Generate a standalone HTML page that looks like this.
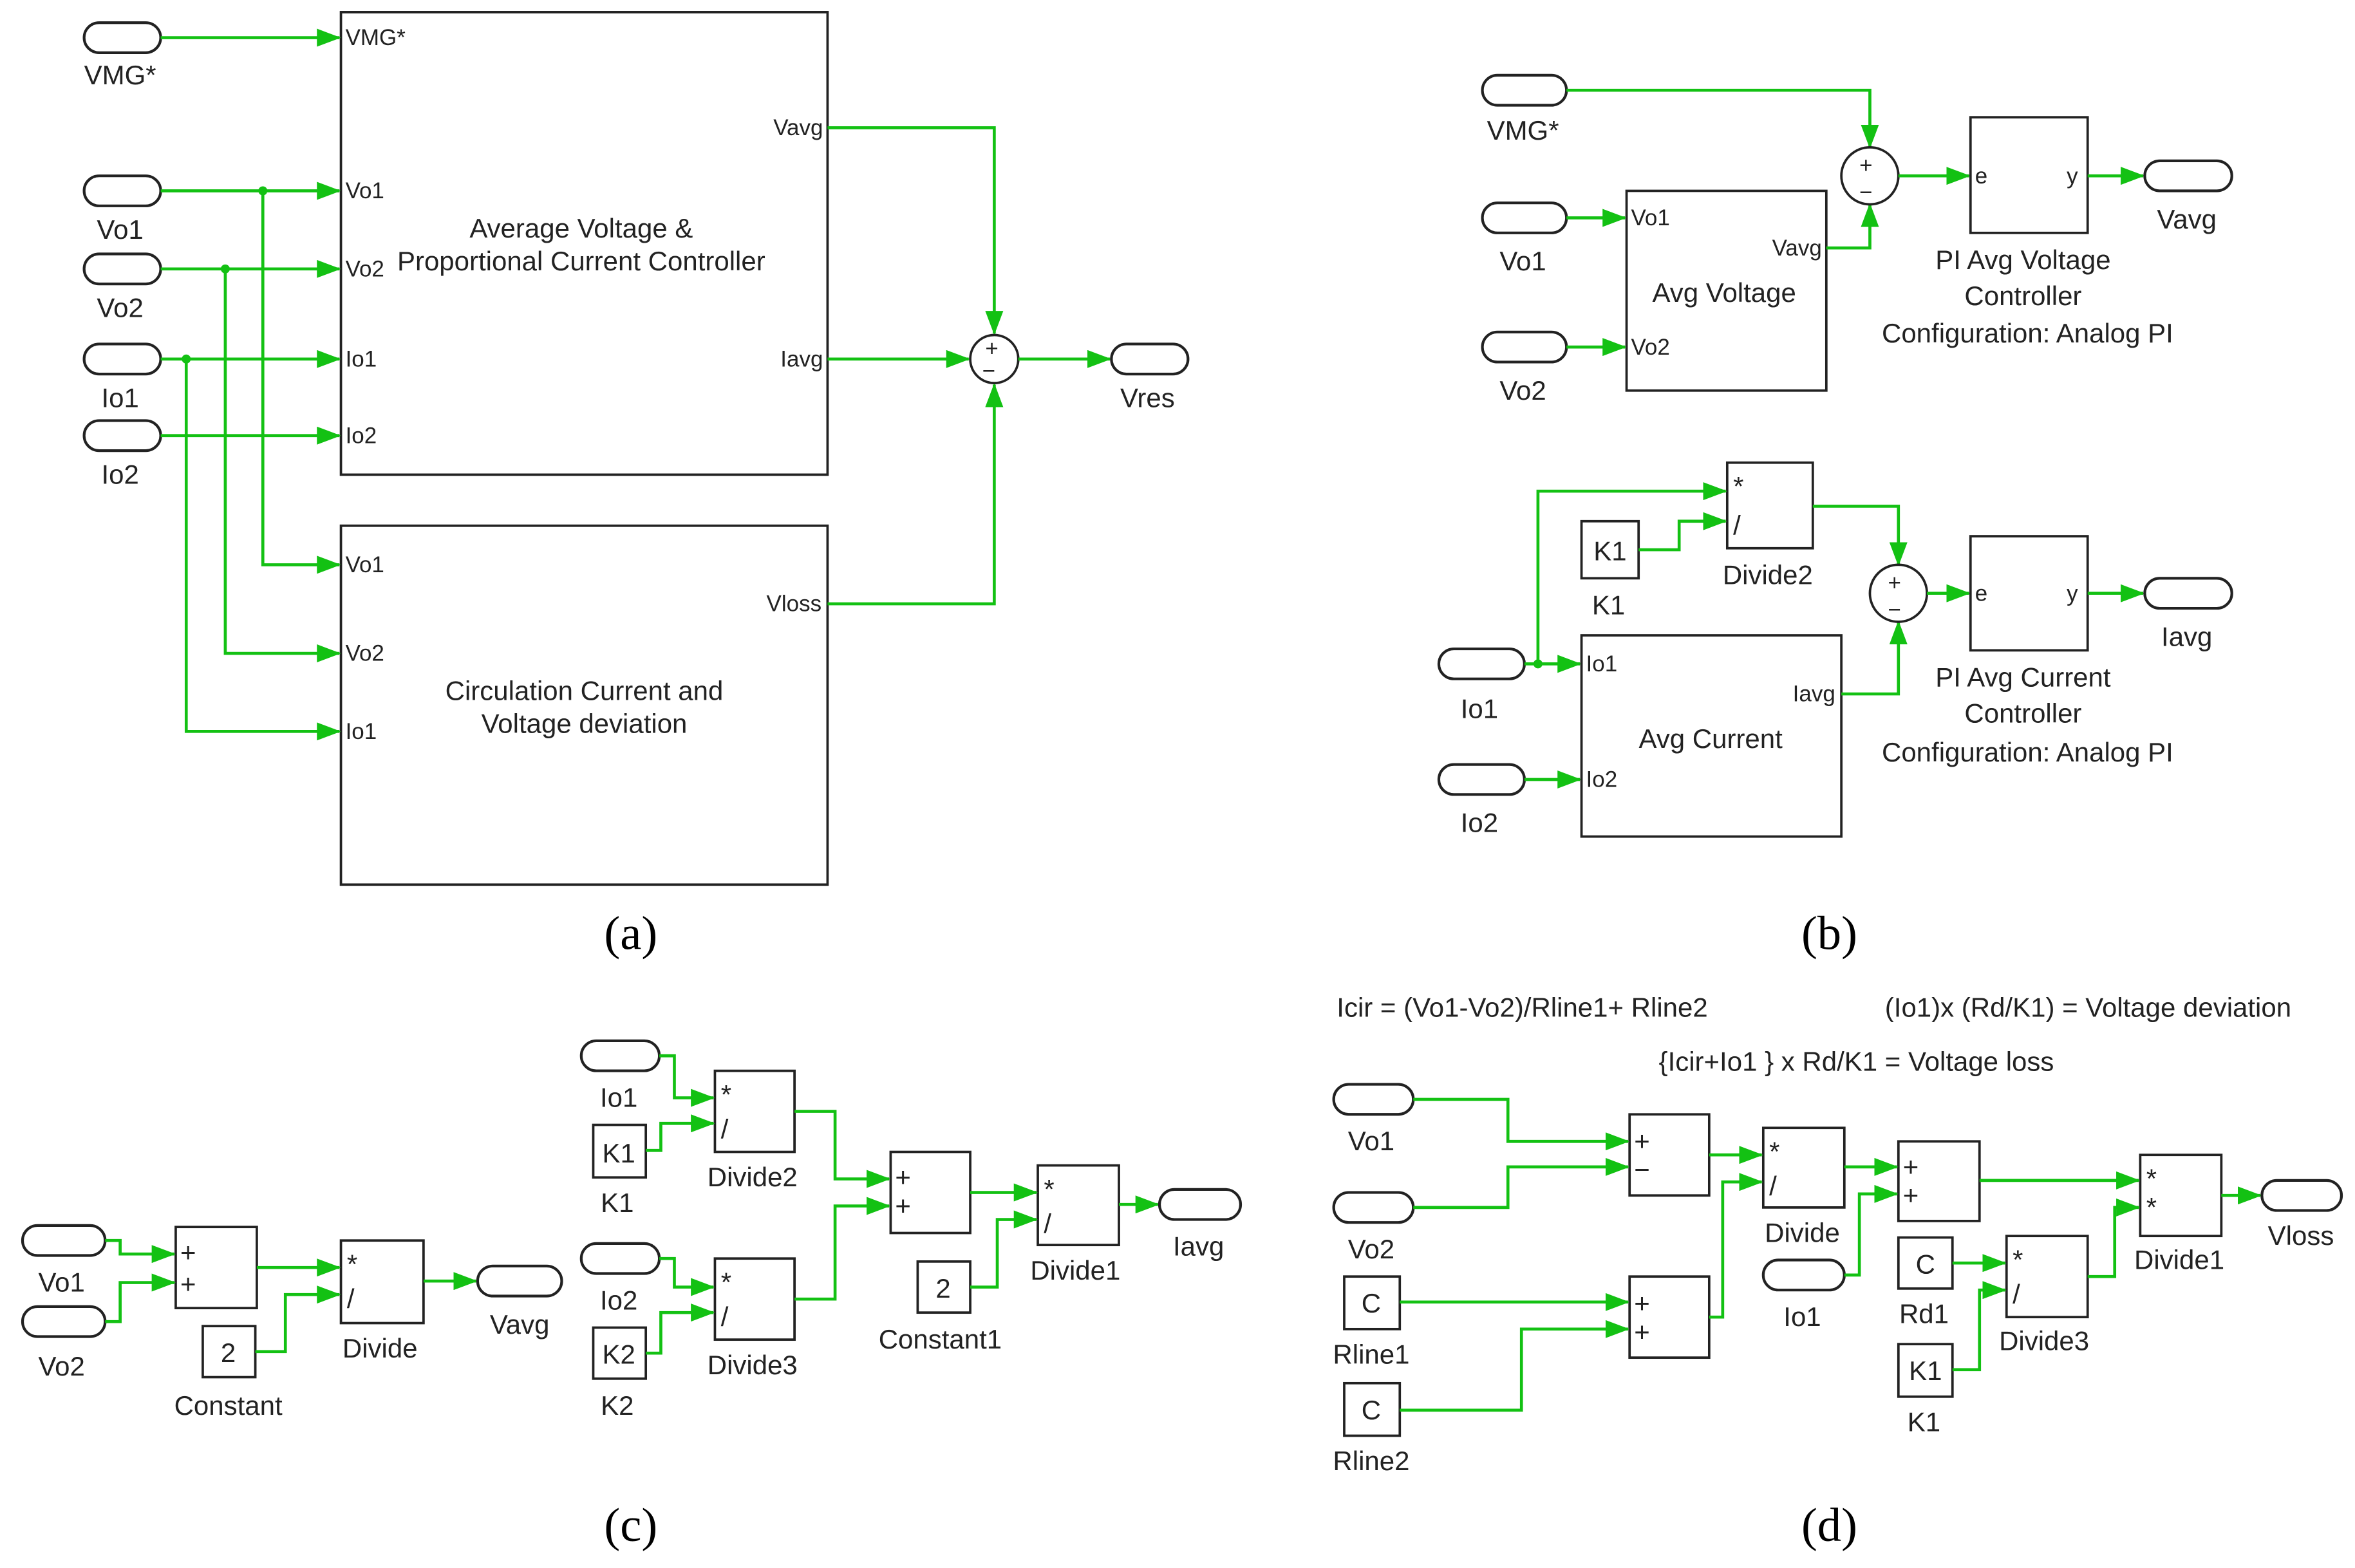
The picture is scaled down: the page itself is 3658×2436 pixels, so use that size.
<!DOCTYPE html>
<html><head><meta charset="utf-8"><style>
html,body{margin:0;padding:0;background:#fff}
svg{display:block}
text{font-family:"Liberation Sans",sans-serif;font-size:18px;fill:#222}
.p{font-size:15px}
.cap{font-family:"Liberation Serif",serif;font-size:32px;fill:#000}
.w{fill:none;stroke:#13c113;stroke-width:2}
.b{fill:#fff;stroke:#222;stroke-width:1.6}
.pill{fill:#fff;stroke:#222;stroke-width:1.8}
.d{fill:#13c113}
</style></head><body>
<svg width="3658" height="2436" viewBox="0 0 1568 1044" xmlns="http://www.w3.org/2000/svg">
<defs><marker id="a" markerUnits="userSpaceOnUse" markerWidth="16" markerHeight="12" refX="15" refY="6" orient="auto"><path d="M0,0L16,6L0,12z" fill="#13c113"/></marker></defs>

<!-- (a) -->
<rect class="b" x="227" y="8" width="324" height="308"/>
<rect class="b" x="227" y="350" width="324" height="239"/>
<rect class="pill" x="56" y="15" width="51" height="20" rx="10"/><text x="80" y="56" text-anchor="middle">VMG*</text>
<rect class="pill" x="56" y="117" width="51" height="20" rx="10"/><text x="80" y="159" text-anchor="middle">Vo1</text>
<rect class="pill" x="56" y="169" width="51" height="20" rx="10"/><text x="80" y="211" text-anchor="middle">Vo2</text>
<rect class="pill" x="56" y="229" width="51" height="20" rx="10"/><text x="80" y="271" text-anchor="middle">Io1</text>
<rect class="pill" x="56" y="280" width="51" height="20" rx="10"/><text x="80" y="322" text-anchor="middle">Io2</text>
<path class="w" marker-end="url(#a)" d="M107,25H226"/>
<path class="w" marker-end="url(#a)" d="M107,127H226"/>
<path class="w" marker-end="url(#a)" d="M107,179H226"/>
<path class="w" marker-end="url(#a)" d="M107,239H226"/>
<path class="w" marker-end="url(#a)" d="M107,290H226"/>
<path class="w" marker-end="url(#a)" d="M175,127V376H226"/>
<path class="w" marker-end="url(#a)" d="M150,179V435H226"/>
<path class="w" marker-end="url(#a)" d="M124,239V487H226"/>
<circle class="d" cx="175" cy="127" r="3"/><circle class="d" cx="150" cy="179" r="3"/><circle class="d" cx="124" cy="239" r="3"/>
<text class="p" x="230" y="30">VMG*</text><text class="p" x="230" y="132">Vo1</text><text class="p" x="230" y="184">Vo2</text><text class="p" x="230" y="244">Io1</text><text class="p" x="230" y="295">Io2</text>
<text x="387" y="158" text-anchor="middle">Average Voltage &amp;</text>
<text x="387" y="180" text-anchor="middle">Proportional Current Controller</text>
<text class="p" x="548" y="90" text-anchor="end">Vavg</text><text class="p" x="548" y="244" text-anchor="end">Iavg</text>
<text class="p" x="230" y="381">Vo1</text><text class="p" x="230" y="440">Vo2</text><text class="p" x="230" y="492">Io1</text>
<text class="p" x="547" y="407" text-anchor="end">Vloss</text>
<text x="389" y="466" text-anchor="middle">Circulation Current and</text>
<text x="389" y="488" text-anchor="middle">Voltage deviation</text>
<path class="w" marker-end="url(#a)" d="M551,85H662V222"/>
<path class="w" marker-end="url(#a)" d="M551,239H645"/>
<path class="w" marker-end="url(#a)" d="M551,402H662V256"/>
<circle class="b" cx="662" cy="239" r="16"/><text x="656" y="237" class="p">+</text><text x="654" y="252" class="p">−</text>
<path class="w" marker-end="url(#a)" d="M678,239H739"/>
<rect class="pill" x="740" y="229" width="51" height="20" rx="10"/><text x="764" y="271" text-anchor="middle">Vres</text>
<text class="cap" x="420" y="632" text-anchor="middle">(a)</text>

<!-- (b) -->
<rect class="pill" x="987" y="50" width="56" height="20" rx="10"/><text x="1014" y="93" text-anchor="middle">VMG*</text>
<rect class="pill" x="987" y="135" width="56" height="20" rx="10"/><text x="1014" y="180" text-anchor="middle">Vo1</text>
<rect class="pill" x="987" y="221" width="56" height="20" rx="10"/><text x="1014" y="266" text-anchor="middle">Vo2</text>
<rect class="b" x="1083" y="127" width="133" height="133"/>
<text class="p" x="1086" y="150">Vo1</text><text class="p" x="1086" y="236">Vo2</text><text class="p" x="1213" y="170" text-anchor="end">Vavg</text>
<text x="1148" y="201" text-anchor="middle">Avg Voltage</text>
<path class="w" marker-end="url(#a)" d="M1043,145H1082"/>
<path class="w" marker-end="url(#a)" d="M1043,231H1082"/>
<path class="w" marker-end="url(#a)" d="M1043,60H1245V98"/>
<path class="w" marker-end="url(#a)" d="M1216,165H1245V136"/>
<circle class="b" cx="1245" cy="117" r="19"/><text x="1238" y="115" class="p">+</text><text x="1238" y="133" class="p">−</text>
<path class="w" marker-end="url(#a)" d="M1264,117H1311"/>
<rect class="b" x="1312" y="78" width="78" height="77"/><text class="p" x="1315" y="122">e</text><text class="p" x="1376" y="122">y</text>
<path class="w" marker-end="url(#a)" d="M1390,117H1427"/>
<rect class="pill" x="1428" y="107" width="58" height="20" rx="10"/><text x="1456" y="152" text-anchor="middle">Vavg</text>
<text x="1347" y="179" text-anchor="middle">PI Avg Voltage</text><text x="1347" y="203" text-anchor="middle">Controller</text><text x="1350" y="228" text-anchor="middle">Configuration: Analog PI</text>
<rect class="b" x="1150" y="308" width="57" height="57"/><text x="1154" y="330">*</text><text x="1154" y="356">/</text><text x="1177" y="389" text-anchor="middle">Divide2</text>
<rect class="b" x="1053" y="347" width="38" height="38"/><text x="1072" y="373" text-anchor="middle">K1</text><text x="1071" y="409" text-anchor="middle">K1</text>
<path class="w" marker-end="url(#a)" d="M1091,366H1118V347H1149"/>
<rect class="pill" x="958" y="432" width="57" height="20" rx="10"/><text x="985" y="478" text-anchor="middle">Io1</text>
<rect class="pill" x="958" y="509" width="57" height="20" rx="10"/><text x="985" y="554" text-anchor="middle">Io2</text>
<path class="w" marker-end="url(#a)" d="M1015,442H1052"/>
<path class="w" marker-end="url(#a)" d="M1024,442V327H1149"/>
<circle class="d" cx="1024" cy="442" r="3"/>
<path class="w" marker-end="url(#a)" d="M1015,519H1052"/>
<rect class="b" x="1053" y="423" width="173" height="134"/>
<text class="p" x="1056" y="447">Io1</text><text class="p" x="1056" y="524">Io2</text><text class="p" x="1222" y="467" text-anchor="end">Iavg</text>
<text x="1139" y="498" text-anchor="middle">Avg Current</text>
<path class="w" marker-end="url(#a)" d="M1207,337H1264V376"/>
<path class="w" marker-end="url(#a)" d="M1226,462H1264V414"/>
<circle class="b" cx="1264" cy="395" r="19"/><text x="1257" y="393" class="p">+</text><text x="1257" y="411" class="p">−</text>
<path class="w" marker-end="url(#a)" d="M1283,395H1311"/>
<rect class="b" x="1312" y="357" width="78" height="76"/><text class="p" x="1315" y="400">e</text><text class="p" x="1376" y="400">y</text>
<path class="w" marker-end="url(#a)" d="M1390,395H1427"/>
<rect class="pill" x="1428" y="385" width="58" height="20" rx="10"/><text x="1456" y="430" text-anchor="middle">Iavg</text>
<text x="1347" y="457" text-anchor="middle">PI Avg Current</text><text x="1347" y="481" text-anchor="middle">Controller</text><text x="1350" y="507" text-anchor="middle">Configuration: Analog PI</text>
<text class="cap" x="1218" y="632" text-anchor="middle">(b)</text>

<!-- (c) -->
<rect class="pill" x="15" y="816" width="55" height="20" rx="10"/><text x="41" y="860" text-anchor="middle">Vo1</text>
<rect class="pill" x="15" y="870" width="55" height="20" rx="10"/><text x="41" y="916" text-anchor="middle">Vo2</text>
<rect class="b" x="117" y="817" width="54" height="54"/><text x="120" y="840">+</text><text x="120" y="861">+</text>
<path class="w" marker-end="url(#a)" d="M70,826H80V835H116"/>
<path class="w" marker-end="url(#a)" d="M70,880H80V854H116"/>
<rect class="b" x="135" y="883" width="35" height="34"/><text x="152" y="907" text-anchor="middle">2</text><text x="152" y="942" text-anchor="middle">Constant</text>
<rect class="b" x="227" y="826" width="55" height="55"/><text x="231" y="848">*</text><text x="231" y="871">/</text><text x="253" y="904" text-anchor="middle">Divide</text>
<path class="w" marker-end="url(#a)" d="M171,844H226"/>
<path class="w" marker-end="url(#a)" d="M170,900H190V862H226"/>
<path class="w" marker-end="url(#a)" d="M282,853H317"/>
<rect class="pill" x="318" y="843" width="56" height="20" rx="10"/><text x="346" y="888" text-anchor="middle">Vavg</text>
<rect class="pill" x="387" y="693" width="52" height="20" rx="10"/><text x="412" y="737" text-anchor="middle">Io1</text>
<rect class="b" x="395" y="749" width="35" height="35"/><text x="412" y="774" text-anchor="middle">K1</text><text x="411" y="807" text-anchor="middle">K1</text>
<rect class="b" x="476" y="713" width="53" height="54"/><text x="480" y="735">*</text><text x="480" y="758">/</text><text x="501" y="790" text-anchor="middle">Divide2</text>
<path class="w" marker-end="url(#a)" d="M439,703H449V731H475"/>
<path class="w" marker-end="url(#a)" d="M430,766H440V748H475"/>
<rect class="pill" x="387" y="828" width="52" height="20" rx="10"/><text x="412" y="872" text-anchor="middle">Io2</text>
<rect class="b" x="395" y="884" width="35" height="34"/><text x="412" y="908" text-anchor="middle">K2</text><text x="411" y="942" text-anchor="middle">K2</text>
<rect class="b" x="476" y="838" width="53" height="54"/><text x="480" y="860">*</text><text x="480" y="883">/</text><text x="501" y="915" text-anchor="middle">Divide3</text>
<path class="w" marker-end="url(#a)" d="M439,838H449V857H475"/>
<path class="w" marker-end="url(#a)" d="M430,901H440V874H475"/>
<rect class="b" x="593" y="767" width="53" height="54"/><text x="596" y="790">+</text><text x="596" y="809">+</text>
<path class="w" marker-end="url(#a)" d="M529,740H556V785H592"/>
<path class="w" marker-end="url(#a)" d="M529,865H556V803H592"/>
<rect class="b" x="611" y="840" width="35" height="34"/><text x="628" y="864" text-anchor="middle">2</text><text x="626" y="898" text-anchor="middle">Constant1</text>
<rect class="b" x="691" y="776" width="54" height="53"/><text x="695" y="798">*</text><text x="695" y="821">/</text><text x="716" y="852" text-anchor="middle">Divide1</text>
<path class="w" marker-end="url(#a)" d="M646,794H690"/>
<path class="w" marker-end="url(#a)" d="M646,857H664V812H690"/>
<path class="w" marker-end="url(#a)" d="M745,802H771"/>
<rect class="pill" x="772" y="792" width="54" height="20" rx="10"/><text x="798" y="836" text-anchor="middle">Iavg</text>
<text class="cap" x="420" y="1026" text-anchor="middle">(c)</text>

<!-- (d) -->
<text x="890" y="677">Icir = (Vo1-Vo2)/Rline1+ Rline2</text>
<text x="1255" y="677">(Io1)x (Rd/K1) = Voltage deviation</text>
<text x="1236" y="713" text-anchor="middle">{Icir+Io1 } x Rd/K1 = Voltage loss</text>
<rect class="pill" x="888" y="722" width="53" height="20" rx="10"/><text x="913" y="766" text-anchor="middle">Vo1</text>
<rect class="pill" x="888" y="794" width="53" height="20" rx="10"/><text x="913" y="838" text-anchor="middle">Vo2</text>
<rect class="b" x="1085" y="742" width="53" height="54"/><text x="1088" y="766">+</text><text x="1088" y="785">−</text>
<path class="w" marker-end="url(#a)" d="M941,732H1004V760H1084"/>
<path class="w" marker-end="url(#a)" d="M941,804H1004V777H1084"/>
<rect class="b" x="895" y="850" width="37" height="35"/><text x="913" y="874" text-anchor="middle">C</text><text x="913" y="908" text-anchor="middle">Rline1</text>
<rect class="b" x="895" y="921" width="37" height="35"/><text x="913" y="945" text-anchor="middle">C</text><text x="913" y="979" text-anchor="middle">Rline2</text>
<rect class="b" x="1085" y="850" width="53" height="54"/><text x="1088" y="874">+</text><text x="1088" y="893">+</text>
<path class="w" marker-end="url(#a)" d="M932,867H1084"/>
<path class="w" marker-end="url(#a)" d="M932,939H1013V885H1084"/>
<rect class="b" x="1174" y="751" width="54" height="53"/><text x="1178" y="773">*</text><text x="1178" y="796">/</text><text x="1200" y="827" text-anchor="middle">Divide</text>
<path class="w" marker-end="url(#a)" d="M1138,769H1173"/>
<path class="w" marker-end="url(#a)" d="M1138,877H1147V787H1173"/>
<rect class="pill" x="1174" y="839" width="54" height="20" rx="10"/><text x="1200" y="883" text-anchor="middle">Io1</text>
<rect class="b" x="1264" y="760" width="54" height="53"/><text x="1267" y="783">+</text><text x="1267" y="802">+</text>
<path class="w" marker-end="url(#a)" d="M1228,777H1263"/>
<path class="w" marker-end="url(#a)" d="M1228,849H1238V795H1263"/>
<rect class="b" x="1264" y="824" width="36" height="34"/><text x="1282" y="848" text-anchor="middle">C</text><text x="1281" y="881" text-anchor="middle">Rd1</text>
<rect class="b" x="1264" y="895" width="36" height="35"/><text x="1282" y="919" text-anchor="middle">K1</text><text x="1281" y="953" text-anchor="middle">K1</text>
<rect class="b" x="1336" y="823" width="54" height="54"/><text x="1340" y="845">*</text><text x="1340" y="868">/</text><text x="1361" y="899" text-anchor="middle">Divide3</text>
<path class="w" marker-end="url(#a)" d="M1300,841H1335"/>
<path class="w" marker-end="url(#a)" d="M1300,912H1318V859H1335"/>
<rect class="b" x="1425" y="769" width="54" height="54"/><text x="1429" y="791">*</text><text x="1429" y="810">*</text><text x="1451" y="845" text-anchor="middle">Divide1</text>
<path class="w" marker-end="url(#a)" d="M1318,786H1424"/>
<path class="w" marker-end="url(#a)" d="M1390,850H1408V804H1424"/>
<path class="w" marker-end="url(#a)" d="M1479,796H1505"/>
<rect class="pill" x="1506" y="786" width="53" height="20" rx="10"/><text x="1532" y="829" text-anchor="middle">Vloss</text>
<text class="cap" x="1218" y="1026" text-anchor="middle">(d)</text>
</svg>
</body></html>
